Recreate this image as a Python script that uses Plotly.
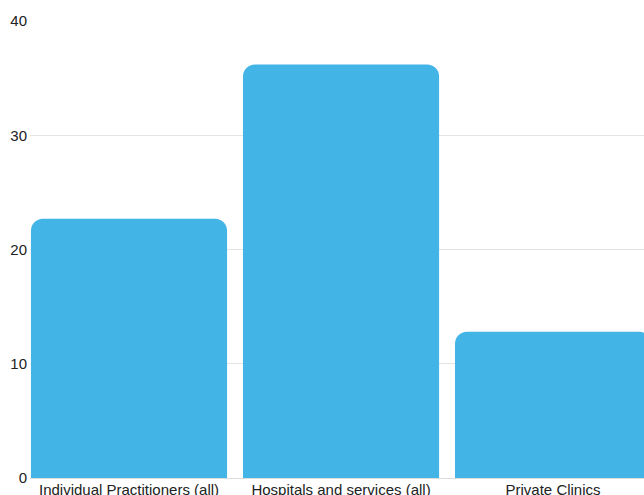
import plotly.graph_objects as go

categories = ["Individual Practitioners (all)", "Hospitals and services (all)", "Private Clinics"]
values = [22.7, 36.2, 12.8]
y_ticks = [0, 10, 20, 30, 40]

fig = go.Figure(
    go.Bar(
        x=categories,
        y=values,
        marker=dict(color="#42b4e6", cornerradius=12, line=dict(width=0)),
        width=0.925,
        hoverinfo="skip",
    )
)

fig.update_layout(
    width=644,
    height=495,
    margin=dict(l=30, r=0, t=21, b=17),
    paper_bgcolor="white",
    plot_bgcolor="white",
    font=dict(family="Liberation Sans, Arial, sans-serif", size=15, color="#222222"),
    showlegend=False,
)

fig.update_xaxes(
    range=[-0.467, 2.429],
    automargin=False,
    showgrid=False,
    showline=True,
    linecolor="#dddddd",
    linewidth=1,
    ticks="",
    ticklabelstandoff=-2,
    tickfont=dict(size=15, color="#222222"),
)

fig.update_yaxes(
    range=[0, 40],
    automargin=False,
    tickvals=y_ticks,
    showgrid=True,
    gridcolor="#e3e3e3",
    gridwidth=1,
    zeroline=False,
    showline=False,
    ticks="",
    ticklabelstandoff=2,
    tickfont=dict(size=15, color="#222222"),
)

fig.write_html(
    "out.html",
    config={"displayModeBar": False},
    post_script="document.body.style.margin='0';document.body.style.overflow='hidden';",
)
